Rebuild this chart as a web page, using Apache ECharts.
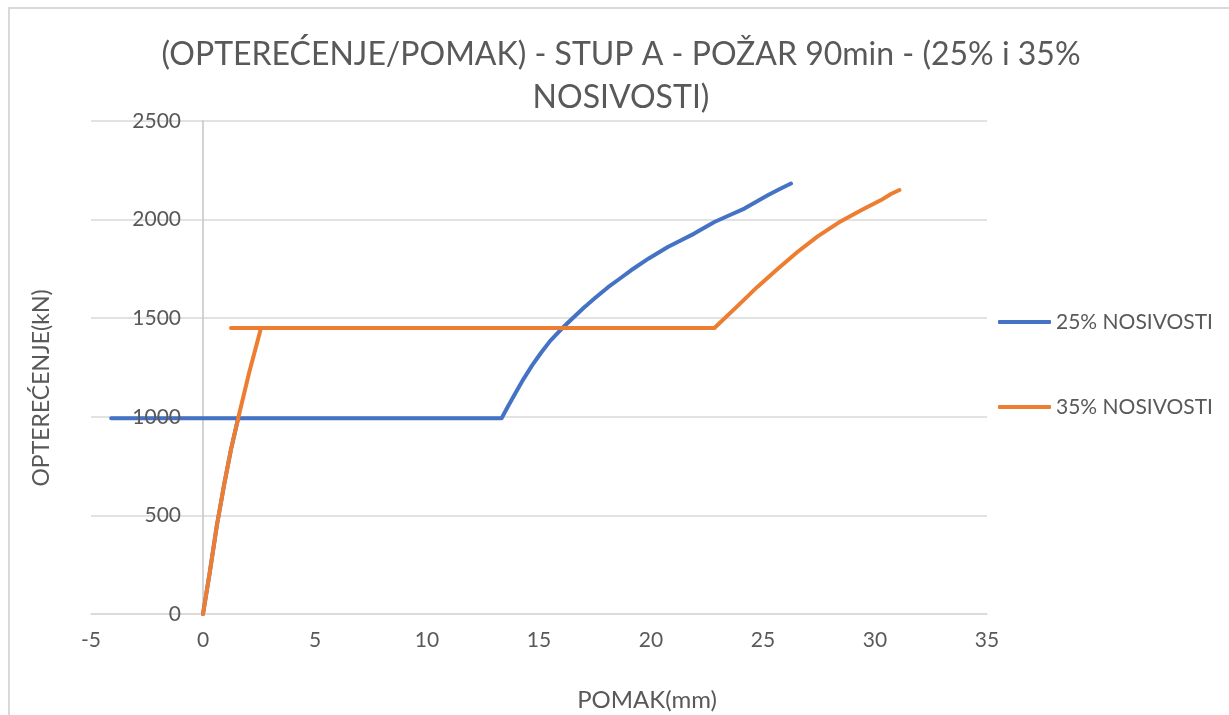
<!DOCTYPE html>
<html>
<head>
<meta charset="utf-8">
<script src="https://cdn.jsdelivr.net/npm/echarts@6/dist/echarts.min.js"></script>
<style>
  html, body { margin: 0; padding: 0; background: #ffffff; }
  #chart { width: 1229px; height: 715px; }
</style>
</head>
<body>
<div id="chart"></div>
<script>
// Displacement (mm) and load (kN) for the column under 25 % load ratio
const pomak25 = [0, 0.3, 0.62, 0.95, 1.25, 1.57, -4.1, 13.33, 13.6, 13.9, 14.3, 14.7, 15.1, 15.5, 16.0, 16.5, 17.0, 17.5, 18.07, 18.6, 19.11, 19.9, 20.75, 21.3, 21.93, 22.83, 23.5, 24.17, 24.7, 25.21, 25.75, 26.25];
const load25  = [0, 210, 450, 660, 835, 993, 993, 993, 1050, 1110, 1190, 1262, 1326, 1385, 1445, 1500, 1553, 1602, 1656, 1700, 1743, 1803, 1861, 1893, 1929, 1988, 2022, 2056, 2090, 2123, 2155, 2183];

// Displacement (mm) and load (kN) for the column under 35 % load ratio
const pomak35 = [0, 0.3, 0.62, 0.95, 1.25, 1.57, 2.05, 2.59, 1.25, 22.83, 23.8, 24.76, 25.65, 26.55, 27.44, 28.48, 29.38, 30.27, 30.71, 31.09];
const load35  = [0, 210, 450, 660, 835, 993, 1220, 1450, 1450, 1450, 1555, 1660, 1750, 1837, 1915, 1992, 2047, 2099, 2130, 2150];

const seriesNames = ['25% NOSIVOSTI', '35% NOSIVOSTI'];
const titleText = '(OPTEREĆENJE/POMAK) - STUP A - POŽAR 90min - (25% i 35%\nNOSIVOSTI)';
const xName = 'POMAK(mm)';
const yName = 'OPTEREĆENJE(kN)';

const pairs = (xs, ys) => xs.map((x, i) => [x, ys[i]]);

const FONT = 'Lato';
const TEXT = '#595959';

// the vertical axis crosses at x = 0, which sits 5 units (of 40) into the plot width
const GRID_LEFT = 91, GRID_RIGHT = 242;
const plotWidth = 1229 - GRID_LEFT - GRID_RIGHT;
const yCross = -plotWidth * 5 / 40;

const chart = echarts.init(document.getElementById('chart'), null, { renderer: 'canvas' });

const yRange = { type: 'value', min: 0, max: 2500, interval: 500 };

chart.setOption({
  animation: false,
  backgroundColor: '#ffffff',
  textStyle: { fontFamily: FONT },
  title: {
    text: titleText,
    left: 621,
    textAlign: 'center',
    top: 33,
    padding: 0,
    textStyle: { fontFamily: FONT, fontSize: 32, fontWeight: 'normal', color: TEXT, lineHeight: 43 }
  },
  graphic: [{
    type: 'rect',
    silent: true,
    shape: { x: 9, y: 8, width: 1240, height: 720 },
    style: { fill: null, stroke: '#d9d9d9', lineWidth: 2 }
  }],
  legend: {
    orient: 'vertical',
    left: 998,
    top: 311,
    padding: 0,
    itemWidth: 53,
    itemHeight: 4,
    itemGap: 63,
    icon: 'roundRect',
    textStyle: { fontFamily: FONT, fontSize: 21, color: TEXT, lineHeight: 22 },
    data: seriesNames
  },
  grid: { left: GRID_LEFT, right: GRID_RIGHT, top: 121, bottom: 101, containLabel: false, outerBoundsMode: 'none' },
  xAxis: {
    type: 'value',
    min: -5,
    max: 35,
    interval: 5,
    name: xName,
    nameLocation: 'middle',
    nameGap: 74,
    nameTextStyle: { fontFamily: FONT, fontSize: 24, color: TEXT, padding: [0, 0, 0, 216] },
    axisLine: { show: true, onZero: false, lineStyle: { color: '#d9d9d9', width: 1.5 } },
    axisTick: { show: false },
    axisLabel: { fontFamily: FONT, fontSize: 21, color: TEXT, margin: 16 },
    splitLine: { show: false }
  },
  yAxis: [
    Object.assign({}, yRange, {
      position: 'left',
      offset: yCross,
      name: yName,
      nameLocation: 'middle',
      nameGap: 150,
      nameTextStyle: { fontFamily: FONT, fontSize: 23, color: TEXT, padding: [0, 41, 0, 0] },
      axisLine: { show: true, onZero: false, lineStyle: { color: '#c4c4c4', width: 1.5 } },
      axisTick: { show: false },
      axisLabel: { show: false },
      splitLine: { show: true, lineStyle: { color: '#d9d9d9', width: 1.5 } }
    }),
    // tick labels, drawn above the data lines
    Object.assign({}, yRange, {
      position: 'left',
      offset: yCross,
      z: 10,
      axisLine: { show: false, onZero: false },
      axisTick: { show: false },
      axisLabel: { fontFamily: FONT, fontSize: 21, color: TEXT, margin: 22, formatter: (v) => String(v) },
      splitLine: { show: false }
    })
  ],
  series: [
    {
      name: seriesNames[0],
      type: 'line',
      yAxisIndex: 0,
      data: pairs(pomak25, load25),
      showSymbol: false,
      symbol: 'none',
      smooth: false,
      lineStyle: { color: '#4472C4', width: 4, cap: 'round', join: 'round' },
      itemStyle: { color: '#4472C4' }
    },
    {
      name: seriesNames[1],
      type: 'line',
      yAxisIndex: 0,
      data: pairs(pomak35, load35),
      showSymbol: false,
      symbol: 'none',
      smooth: false,
      lineStyle: { color: '#ED7D31', width: 4, cap: 'round', join: 'round' },
      itemStyle: { color: '#ED7D31' }
    }
  ]
});
</script>
</body>
</html>
